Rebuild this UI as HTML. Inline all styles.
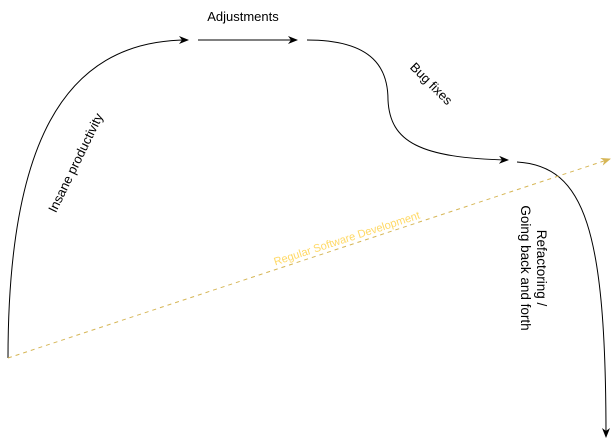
<!DOCTYPE html>
<html><head><meta charset="utf-8"><style>body{margin:0;background:#fff}svg{display:block}text{font-family:"Liberation Sans",Arial,sans-serif}</style></head>
<body>
<svg width="616" height="440" viewBox="0 0 616 440" xmlns="http://www.w3.org/2000/svg">
<defs>
<marker id="a" markerWidth="10" markerHeight="8" refX="9" refY="4" orient="auto" markerUnits="userSpaceOnUse"><path d="M0,0 L10,4 L0,8 L3,4 Z" fill="#000"/></marker>
<marker id="y" markerWidth="10" markerHeight="8" refX="9" refY="4" orient="auto" markerUnits="userSpaceOnUse"><path d="M0,0 L10,4 L0,8 L3,4 Z" fill="#d6b656"/></marker>
</defs>
<g fill="none" stroke="#000" stroke-width="1">
<path d="M8,358 C8,150 60,40 188,40" marker-end="url(#a)"/>
<path d="M198,40 L297,40" marker-end="url(#a)"/>
<path d="M307,40 C375,40 388,70 388,100 C390,142 420,158 508,160" marker-end="url(#a)"/>
<path d="M517,162 C585,166 606,230 606,437" marker-end="url(#a)"/>
</g>
<path d="M8,358 L610,159" stroke="#d6b656" stroke-width="1" stroke-dasharray="4,4" fill="none" marker-end="url(#y)"/>
<text x="243" y="21" font-size="13" text-anchor="middle">Adjustments</text>
<text transform="translate(76,163) rotate(-64)" font-size="13" text-anchor="middle" dy="4">Insane productivity</text>
<text transform="translate(431,84) rotate(45)" font-size="13" text-anchor="middle" dy="4">Bug fixes</text>
<text transform="translate(533,268) rotate(90)" font-size="13.5" text-anchor="middle"><tspan x="0" y="-4">Refactoring /</tspan><tspan x="0" y="12">Going back and forth</tspan></text>
<text transform="translate(347,239) rotate(-18)" font-size="11" fill="#ffd966" text-anchor="middle" dy="3">Regular Software Development</text>
</svg>
</body></html>
